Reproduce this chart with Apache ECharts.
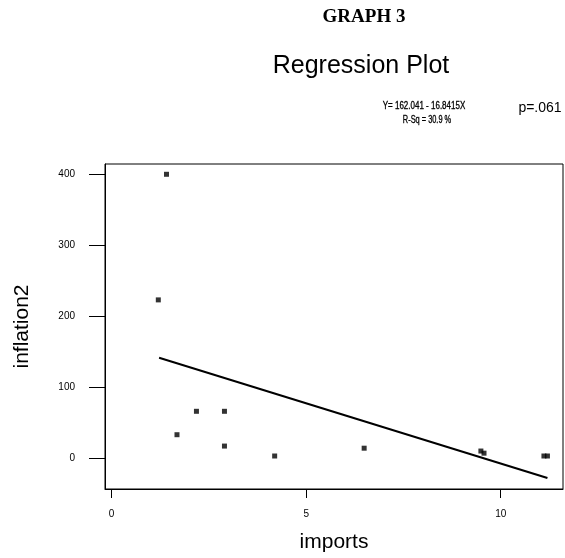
<!DOCTYPE html>
<html>
<head>
<meta charset="utf-8">
<title>Regression Plot</title>
<script src="https://cdn.jsdelivr.net/npm/echarts@6/dist/echarts.min.js"></script>
<style>
  html, body { margin: 0; padding: 0; background: #fff; }
  #main { width: 565px; height: 558px; }
</style>
</head>
<body>
<div id="main"></div>
<script>
// 数据
var importsX  = [1.41, 1.2, 2.18, 2.9, 1.68, 2.9, 4.19, 6.49, 9.49, 9.57, 11.11, 11.2];
var inflation = [400, 223, 66, 66, 33, 17, 3, 14, 10, 7, 3, 3];
// fitted line Y = 162.041 - 16.8415X, ends as drawn
var fitX = [1.22, 11.2];
var fitY = [141.4, -28];
var xTicks = [0, 5, 10];
var yTicks = [0, 100, 200, 300, 400];

var points = importsX.map(function (x, i) { return [x, inflation[i]]; });
var fitLine = fitX.map(function (x, i) { return [x, fitY[i]]; });

var sans = "'Liberation Sans', Arial, sans-serif";

var myChart = echarts.init(document.getElementById('main'));
var option = {
    backgroundColor: '#fff',
    animation: false,
    graphic: [
        { type: 'text', x: 364, y: 17, style: { text: 'GRAPH 3', font: 'bold 19px "Liberation Serif", "Times New Roman", serif', fill: '#000', textAlign: 'center', textVerticalAlign: 'middle' } },
        { type: 'text', x: 361, y: 66, style: { text: 'Regression Plot', font: '25px ' + sans, fill: '#000', textAlign: 'center', textVerticalAlign: 'middle' } },
        // small condensed text: squeeze horizontally
        { type: 'text', x: 424, y: 106, scaleX: 0.8, style: { text: 'Y= 162.041 - 16.8415X', font: '10px ' + sans, fill: '#000', stroke: '#000', lineWidth: 0.3, textAlign: 'center', textVerticalAlign: 'middle' } },
        { type: 'text', x: 427, y: 120, scaleX: 0.74, style: { text: 'R-Sq = 30.9 %', font: '10px ' + sans, fill: '#000', stroke: '#000', lineWidth: 0.3, textAlign: 'center', textVerticalAlign: 'middle' } },
        { type: 'text', x: 540, y: 108, style: { text: 'p=.061', font: '14px ' + sans, fill: '#000', textAlign: 'center', textVerticalAlign: 'middle' } }
    ],
    grid: {
        left: 105, right: 2, top: 164, bottom: 68,
        show: true, borderColor: '#000', borderWidth: 1, backgroundColor: 'transparent'
    },
    xAxis: {
        type: 'value',
        min: -0.17, max: 11.6,
        name: 'imports',
        nameLocation: 'middle',
        nameGap: 43,
        nameTextStyle: { fontFamily: sans, fontSize: 21, color: '#000' },
        axisLine: { onZero: false, lineStyle: { color: '#000', width: 1 } },
        axisTick: { show: true, inside: false, length: 9, customValues: xTicks, lineStyle: { color: '#000' } },
        axisLabel: { customValues: xTicks, margin: 20, fontFamily: sans, fontSize: 10, color: '#000' },
        splitLine: { show: false }
    },
    yAxis: {
        type: 'value',
        min: -43.5, max: 414.5,
        name: 'inflation2',
        nameLocation: 'middle',
        nameGap: 72,
        nameRotate: 90,
        nameTextStyle: { fontFamily: sans, fontSize: 21, color: '#000' },
        axisLine: { onZero: false, lineStyle: { color: '#000', width: 1 } },
        axisTick: { show: true, inside: false, length: 16, customValues: yTicks, lineStyle: { color: '#000' } },
        axisLabel: { customValues: yTicks, margin: 30, fontFamily: sans, fontSize: 10, color: '#000' },
        splitLine: { show: false }
    },
    series: [
        {
            name: 'inflation2',
            type: 'scatter',
            data: points,
            symbol: 'rect',
            symbolSize: 5,
            itemStyle: { color: '#000' },
            silent: true
        },
        {
            name: 'fit',
            type: 'line',
            data: fitLine,
            showSymbol: false,
            lineStyle: { color: '#000', width: 2 },
            silent: true
        }
    ]
};
myChart.setOption(option);
</script>
</body>
</html>
